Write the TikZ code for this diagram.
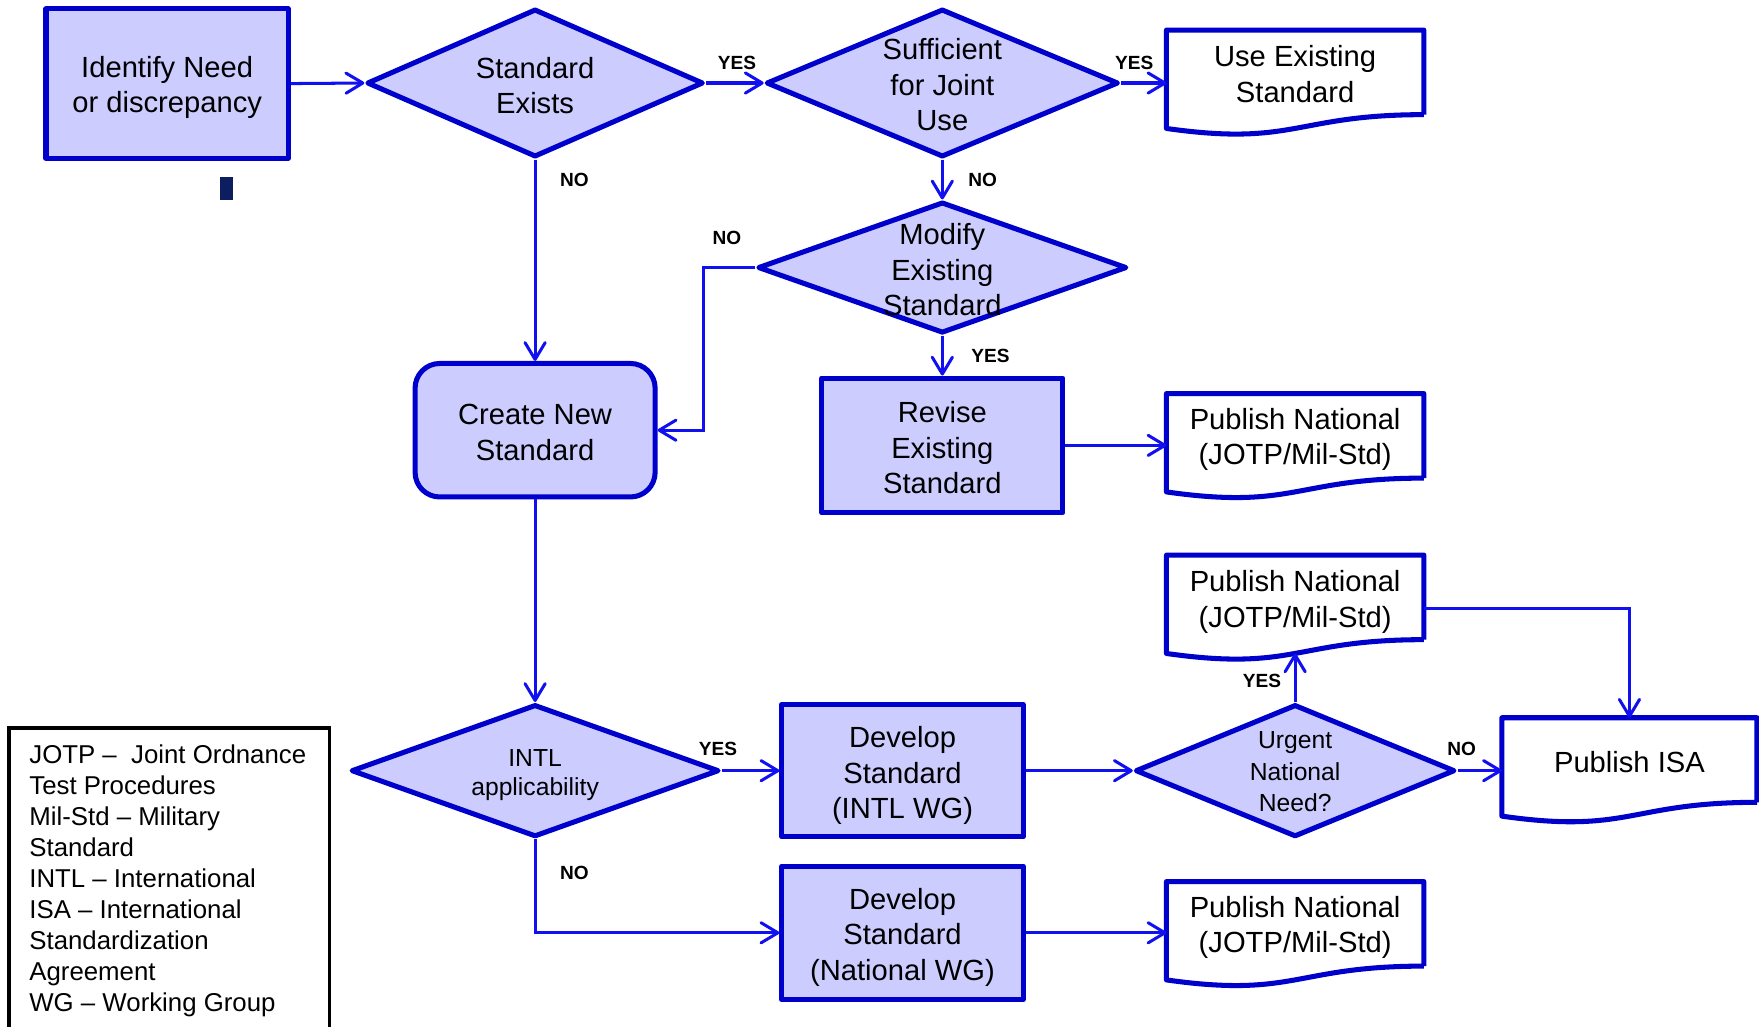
\documentclass[tikz,border=0pt]{standalone}
\usepackage{fontspec}
\setmainfont{Liberation Sans}
\usetikzlibrary{shapes.geometric,arrows.meta,calc}

\definecolor{shapefill}{RGB}{204,204,255}
\definecolor{shapeline}{RGB}{0,0,204}
\definecolor{linkblue}{RGB}{16,16,240}
\definecolor{navymark}{RGB}{12,30,95}

\tikzset{
  every node/.style={font=\fontsize{26}{31.5}\selectfont},
  procbox/.style={draw=shapeline, fill=shapefill, line width=4.5pt, line join=round,
    rectangle, inner sep=0pt},
  roundbox/.style={procbox, rounded corners=22pt},
  decision/.style={draw=shapeline, fill=shapefill, line width=4.5pt, line join=round,
    diamond, inner sep=0pt},
  txt/.style={align=center, inner sep=0pt, yshift=-3.5pt},
  smalltext/.style={font=\fontsize{22}{26}\selectfont},
  docbox/.style={rectangle, inner sep=0pt,
    minimum width=229pt, minimum height=75pt},
  docline/.style={draw=shapeline, line width=4.5pt, line join=round},
  link/.style={draw=linkblue, line width=2.7pt,
    -{Straight Barb[length=15pt,width=18pt,round]}},
  answer/.style={font=\fontsize{17}{20}\bfseries\selectfont, inner sep=0pt},
  legendtext/.style={font=\fontsize{23}{27.6}\selectfont, align=left, inner sep=0pt},
}

% outline of a "document" flowchart shape around a docbox node
\newcommand\docoutline[1]{%
  \path[docline]
    (#1.south east) -- (#1.north east) -- (#1.north west)
    -- ([yshift=-12.3pt]#1.south west)
    .. controls ([yshift=-28.6pt]#1.south) and (#1.south) .. (#1.south east);}

\begin{document}
\begin{tikzpicture}[x=1pt, y=-1pt]
\useasboundingbox (0,0) rectangle (1568,915);

% ---- shapes ----
\node[procbox, minimum width=216pt, minimum height=133pt] (need) at (149,74.5) {};
\node[txt] (needT) at (need) {Identify Need\\or discrepancy};
\fill[navymark] (196,158) rectangle (208,178);

\node[decision, minimum width=300pt, minimum height=132pt] (exists) at (477,74) {};
\node[txt, yshift=1.5pt] (existsT) at (exists) {Standard\\Exists};

\node[decision, minimum width=314pt, minimum height=132pt] (joint) at (840,74) {};
\node[txt, yshift=2pt] (jointT) at (joint) {Sufficient\\for Joint\\Use};

\node[docbox] (useexist) at (1154.5,64.5) {};
\node[txt, yshift=2pt] (useexistT) at (useexist) {Use Existing\\Standard};
\docoutline{useexist}

\node[decision, minimum width=329pt, minimum height=117pt] (modify) at (840,238.5) {};
\node[txt, yshift=1.5pt] (modifyT) at (modify) {Modify\\Existing\\Standard};

\node[roundbox, minimum width=214pt, minimum height=119pt] (create) at (477,383.5) {};
\node[txt, yshift=1.5pt] (createT) at (create) {Create New\\Standard};

\node[procbox, minimum width=215pt, minimum height=120pt] (revise) at (840,397) {};
\node[txt, yshift=1.5pt] (reviseT) at (revise) {Revise\\Existing\\Standard};

\node[docbox] (pubA) at (1154.5,388.5) {};
\node[txt] (pubAT) at (pubA) {Publish National\\(JOTP/Mil-Std)};
\docoutline{pubA}

\node[docbox] (pubB) at (1154.5,532.5) {};
\node[txt, yshift=-0.5pt] (pubBT) at (pubB) {Publish National\\(JOTP/Mil-Std)};
\docoutline{pubB}

\node[decision, minimum width=328pt, minimum height=118pt] (intl) at (477,687) {};
\node[txt, smalltext, yshift=-0.5pt] (intlT) at (intl) {INTL\\applicability};

\node[procbox, minimum width=215pt, minimum height=118pt] (devintl) at (804.5,687) {};
\node[txt, yshift=-1pt] (devintlT) at (devintl) {Develop\\Standard\\(INTL WG)};

\node[decision, minimum width=285pt, minimum height=118pt] (urgent) at (1154.5,687) {};
\node[txt, yshift=2.5pt, font=\fontsize{22}{28}\selectfont] (urgentT) at (urgent)
  {Urgent\\National\\Need?};

\node[docbox, minimum width=227pt] (isa) at (1452.5,677.5) {};
\node[txt, yshift=1.5pt] (isaT) at (isa) {Publish ISA};
\docoutline{isa}

\node[procbox, minimum width=215pt, minimum height=119pt] (devnat) at (804.5,831.5) {};
\node[txt, yshift=-0.5pt] (devnatT) at (devnat) {Develop\\Standard\\(National WG)};

\node[docbox] (pubC) at (1154.5,823.5) {};
\node[txt] (pubCT) at (pubC) {Publish National\\(JOTP/Mil-Std)};
\docoutline{pubC}

% ---- connectors ----
\draw[link] (need.east) -- (exists.west);
\draw[link] (exists.east) -- (joint.west);
\draw[link] (joint.east) -- (joint.east -| useexist.west);
\draw[link] (joint.south) -- (modify.north);
\draw[link] (exists.south) -- (create.north);
\draw[link] (modify.west) -- ++(-46,0) |- (create.east);
\draw[link] (modify.south) -- (revise.north);
\draw[link] (revise.east) -- (revise.east -| pubA.west);
\draw[link] (create.south) -- (intl.north);
\draw[link] (intl.east) -- (devintl.west);
\draw[link] (devintl.east) -- (urgent.west);
\coordinate (pubBfoot) at ([yshift=-12.3pt]pubB.south);
\draw[link] (urgent.north) -- (pubBfoot);
\draw[link] ([yshift=-9.5pt]pubB.east) -| (isa.north);
\draw[link] (urgent.east) -- (urgent.east -| isa.west);
\draw[link] (intl.south) |- (devnat.west);
\draw[link] (devnat.east) -- (devnat.east -| pubC.west);

% ---- branch answers ----
\node[answer] (a1) at (657,56) {YES};
\node[answer] (a2) at (1011,56) {YES};
\node[answer] (a3) at (512,160) {NO};
\node[answer] (a4) at (876,160) {NO};
\node[answer] (a5) at (648,212) {NO};
\node[answer] (a6) at (883,317) {YES};
\node[answer] (a7) at (640,668) {YES};
\node[answer] (a8) at (512,778) {NO};
\node[answer] (a9) at (1125,607) {YES};
\node[answer] (a10) at (1303,668) {NO};

% ---- abbreviations ----
\draw[black, line width=3pt] (8,930) -- (8,649) -- (294,649) -- (294,930);
\node[legendtext, anchor=north west] (legend) at (26,664)
  {JOTP –\ \ Joint Ordnance\\Test Procedures\\Mil-Std – Military\\Standard\\
   INTL – International\\ISA – International\\Standardization\\Agreement\\
   WG – Working Group};
\end{tikzpicture}
\end{document}
